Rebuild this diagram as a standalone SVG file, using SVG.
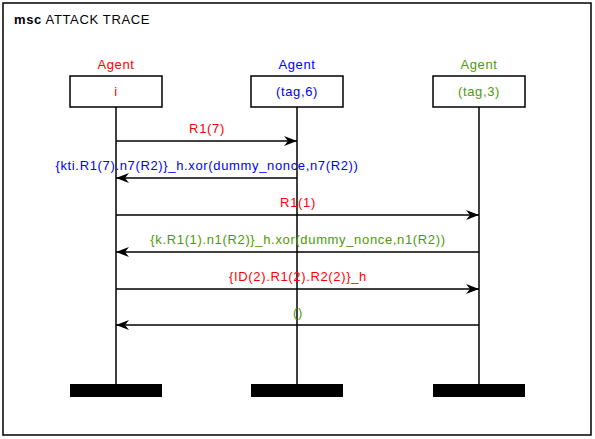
<svg xmlns="http://www.w3.org/2000/svg" width="595" height="439" viewBox="0 0 595 439">
<defs>
<marker id="ah" markerWidth="14" markerHeight="10" refX="13" refY="5" orient="auto" markerUnits="userSpaceOnUse">
<path d="M0,0 L13,5 L0,10 L4,5 Z" fill="#000"/>
</marker>
</defs>
<style>
text{font-family:"Liberation Sans",Arial,sans-serif;font-size:13px;letter-spacing:0.65px}
.c{text-anchor:middle}
.r{fill:#ff0000}.b{fill:#0000ff}.g{fill:#4e9a06}
.box{fill:#fff;stroke:#000;stroke-width:1.5}
.life{stroke:#000;stroke-width:1.5}
.bar{fill:#000}
.msg{stroke:#000;stroke-width:1.3;fill:none;marker-end:url(#ah)}
</style>
<rect x="0" y="0" width="595" height="439" fill="#fff"/>
<rect x="3" y="3" width="588" height="432" fill="none" stroke="#000" stroke-width="1.5"/>
<text x="14" y="24"><tspan font-weight="bold">msc</tspan> ATTACK TRACE</text>
<g id="agent-i">
<text class="c r" x="116" y="69">Agent</text>
<line class="life" x1="116" y1="107" x2="116" y2="384"/>
<rect class="box" x="70" y="76" width="92" height="31"/>
<text class="c r" x="116" y="96">i</text>
<rect class="bar" x="70" y="384" width="92" height="13"/>
</g>
<g id="agent-tag6">
<text class="c b" x="297" y="69">Agent</text>
<line class="life" x1="297" y1="107" x2="297" y2="384"/>
<rect class="box" x="251" y="76" width="92" height="31"/>
<text class="c b" x="297" y="96">(tag,6)</text>
<rect class="bar" x="251" y="384" width="92" height="13"/>
</g>
<g id="agent-tag3">
<text class="c g" x="479" y="69">Agent</text>
<line class="life" x1="479" y1="107" x2="479" y2="384"/>
<rect class="box" x="433" y="76" width="92" height="31"/>
<text class="c g" x="479" y="96">(tag,3)</text>
<rect class="bar" x="433" y="384" width="92" height="13"/>
</g>
<g id="connectors">
<line class="msg" x1="116" y1="141" x2="297" y2="141"/>
<text class="c r" x="207" y="133">R1(7)</text>
<line class="msg" x1="297" y1="178" x2="116" y2="178"/>
<text class="c b" x="207" y="170">{kti.R1(7).n7(R2)}_h.xor(dummy_nonce,n7(R2))</text>
<line class="msg" x1="116" y1="215" x2="479" y2="215"/>
<text class="c r" x="298" y="207">R1(1)</text>
<line class="msg" x1="479" y1="252" x2="116" y2="252"/>
<text class="c g" x="298" y="244">{k.R1(1).n1(R2)}_h.xor(dummy_nonce,n1(R2))</text>
<line class="msg" x1="116" y1="289" x2="479" y2="289"/>
<text class="c r" x="298" y="281">{ID(2).R1(2).R2(2)}_h</text>
<line class="msg" x1="479" y1="325" x2="116" y2="325"/>
<text class="c g" x="298" y="317">()</text>
</g>
</svg>
